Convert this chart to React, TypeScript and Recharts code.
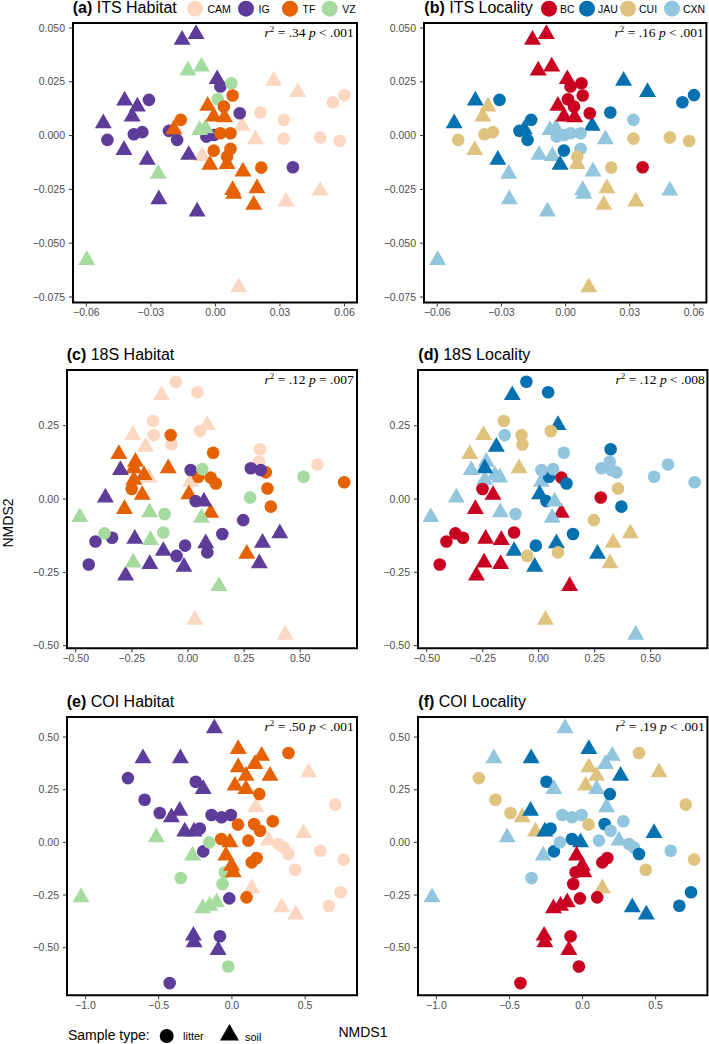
import React from 'react';
import { ScatterChart, Scatter, XAxis, YAxis, ReferenceArea } from 'recharts';

// point rows: [NMDS1, NMDS2, habitat, locality, sample type (l = litter, s = soil)]
type Row = [number, number, string, string, string];

const itsRows: Row[] = [
  [-0.0155, 0.0445, 'IG', 'BC', 's'], [-0.009, 0.0472, 'IG', 'BC', 's'],
  [-0.0128, 0.0302, 'VZ', 'BC', 's'], [-0.0065, 0.0321, 'VZ', 'BC', 's'],
  [-0.0422, 0.0163, 'IG', 'JAU', 's'], [-0.0363, 0.0135, 'IG', 'CUI', 's'],
  [-0.0387, 0.0088, 'IG', 'CUI', 's'], [-0.0521, 0.0057, 'IG', 'JAU', 's'],
  [-0.0425, -0.0067, 'IG', 'CUI', 's'], [-0.0317, -0.0113, 'IG', 'JAU', 's'],
  [-0.0263, -0.0296, 'IG', 'CXN', 's'], [-0.0085, -0.0353, 'IG', 'CXN', 's'],
  [-0.0309, 0.0166, 'IG', 'JAU', 'l'], [-0.0502, -0.002, 'IG', 'CUI', 'l'],
  [-0.0379, 0.0006, 'IG', 'CUI', 'l'], [-0.034, 0.0016, 'IG', 'CUI', 'l'],
  [-0.0216, 0.0022, 'IG', 'JAU', 'l'], [-0.0178, -0.002, 'IG', 'JAU', 'l'],
  [-0.0266, -0.0178, 'VZ', 'CXN', 's'], [-0.0598, -0.0578, 'VZ', 'CXN', 's'],
  [0.0108, -0.0705, 'CAM', 'CUI', 's'],
  [0.0124, 0.0045, 'CAM', 'JAU', 's'], [0.0186, -0.0017, 'CAM', 'CXN', 's'],
  [-0.0062, -0.0095, 'CAM', 'CXN', 's'], [0.0328, -0.0307, 'CAM', 'CUI', 's'],
  [0.0487, -0.0256, 'CAM', 'CXN', 's'], [0.0209, 0.0107, 'CAM', 'JAU', 'l'],
  [0.0317, 0.0073, 'CAM', 'CXN', 'l'], [0.0317, -0.0014, 'CAM', 'CUI', 'l'],
  [0.0487, -0.0009, 'CAM', 'CUI', 'l'], [0.0577, -0.0025, 'CAM', 'CUI', 'l'],
  [0.0546, 0.0155, 'CAM', 'JAU', 'l'], [0.06, 0.0188, 'CAM', 'JAU', 'l'],
  [0.0271, 0.0254, 'CAM', 'JAU', 's'], [0.0383, 0.0202, 'CAM', 'JAU', 's'],
  [-0.0042, -0.0005, 'IG', 'CXN', 'l'], [-0.0008, 0.0003, 'IG', 'CXN', 'l'],
  [-0.0124, -0.009, 'IG', 'CXN', 's'], [0.036, -0.0147, 'IG', 'BC', 'l'],
  [0.0008, 0.0262, 'IG', 'BC', 's'], [0.0023, 0.0228, 'IG', 'BC', 'l'],
  [0.0113, 0.0104, 'IG', 'BC', 'l'],
  [0.0074, 0.0243, 'VZ', 'BC', 'l'], [0.0011, 0.0169, 'VZ', 'BC', 'l'],
  [-0.0073, 0.0026, 'VZ', 'CXN', 's'], [-0.0046, 0.0034, 'VZ', 'CXN', 's'],
  [0.008, 0.0186, 'TF', 'BC', 'l'], [-0.0036, 0.0138, 'TF', 'BC', 's'],
  [0.0039, 0.0135, 'TF', 'BC', 'l'], [-0.0008, 0.0088, 'TF', 'BC', 's'],
  [0.0042, 0.0085, 'TF', 'BC', 's'], [-0.0161, 0.0073, 'TF', 'JAU', 'l'],
  [-0.0193, 0.0029, 'TF', 'JAU', 's'], [0.0023, 0.0011, 'TF', 'CXN', 'l'],
  [0.007, 0.0011, 'TF', 'CXN', 'l'], [-0.0008, -0.007, 'TF', 'JAU', 'l'],
  [0.007, -0.0062, 'TF', 'CXN', 'l'], [0.0054, -0.0098, 'TF', 'CUI', 'l'],
  [0.0054, -0.0132, 'TF', 'CUI', 's'], [-0.0026, -0.0136, 'TF', 'JAU', 's'],
  [0.0128, -0.0167, 'TF', 'CXN', 's'], [0.0213, -0.0149, 'TF', 'CUI', 'l'],
  [0.008, -0.0253, 'TF', 'CXN', 's'], [0.0085, -0.0271, 'TF', 'CXN', 's'],
  [0.0193, -0.0245, 'TF', 'CUI', 's'], [0.0178, -0.0322, 'TF', 'CUI', 's'],
];

const s18Rows: Row[] = [
  [-0.055, 0.4, 'CAM', 'JAU', 'l'], [0.042, 0.364, 'CAM', 'JAU', 'l'],
  [-0.118, 0.354, 'CAM', 'JAU', 's'], [0.086, 0.252, 'CAM', 'JAU', 's'],
  [-0.156, 0.266, 'CAM', 'CUI', 'l'], [0.054, 0.232, 'CAM', 'CUI', 'l'],
  [-0.073, 0.186, 'CAM', 'CUI', 'l'], [-0.152, 0.218, 'CAM', 'CXN', 'l'],
  [-0.246, 0.218, 'CAM', 'CUI', 's'], [-0.189, 0.178, 'CAM', 'JAU', 's'],
  [0.321, 0.17, 'CAM', 'JAU', 'l'], [0.317, 0.127, 'CAM', 'CXN', 'l'],
  [0.577, 0.118, 'CAM', 'CXN', 'l'], [-0.174, 0.073, 'CAM', 'CXN', 's'],
  [0.012, 0.059, 'CAM', 'CXN', 's'], [0.03, -0.412, 'CAM', 'CUI', 's'],
  [0.433, -0.463, 'CAM', 'CXN', 's'],
  [-0.077, 0.218, 'TF', 'CUI', 'l'], [-0.308, 0.153, 'TF', 'CUI', 's'],
  [0.112, 0.158, 'TF', 'CXN', 'l'], [0.347, 0.091, 'TF', 'CXN', 'l'],
  [0.696, 0.057, 'TF', 'CXN', 'l'], [-0.088, 0.105, 'TF', 'CUI', 's'],
  [-0.234, 0.127, 'TF', 'CXN', 's'], [-0.241, 0.065, 'TF', 'CXN', 's'],
  [-0.196, 0.082, 'TF', 'CXN', 's'], [-0.241, 0.105, 'TF', 'JAU', 's'],
  [-0.251, 0.034, 'TF', 'BC', 'l'], [-0.204, 0.014, 'TF', 'BC', 's'],
  [-0.283, -0.034, 'TF', 'BC', 's'], [0.046, 0.076, 'TF', 'JAU', 'l'],
  [0.101, 0.073, 'TF', 'BC', 'l'], [0.124, 0.053, 'TF', 'JAU', 'l'],
  [0.004, 0.016, 'TF', 'JAU', 's'], [0.101, -0.047, 'TF', 'BC', 's'],
  [0.354, 0.036, 'TF', 'CUI', 'l'], [0.369, -0.026, 'TF', 'JAU', 'l'],
  [0.262, -0.187, 'TF', 'JAU', 's'],
  [0.28, 0.105, 'IG', 'CXN', 'l'], [0.324, 0.099, 'IG', 'CXN', 'l'],
  [-0.301, 0.099, 'IG', 'CXN', 's'], [-0.368, 0.005, 'IG', 'CXN', 's'],
  [-0.412, -0.145, 'IG', 'BC', 'l'], [-0.338, -0.132, 'IG', 'BC', 'l'],
  [-0.442, -0.223, 'IG', 'BC', 'l'], [-0.237, -0.136, 'IG', 'BC', 's'],
  [-0.17, -0.222, 'IG', 'BC', 's'], [-0.278, -0.261, 'IG', 'BC', 's'],
  [-0.11, -0.177, 'IG', 'JAU', 's'], [-0.051, -0.194, 'IG', 'CUI', 'l'],
  [-0.013, -0.159, 'IG', 'JAU', 'l'], [-0.018, -0.231, 'IG', 'JAU', 's'],
  [0.012, 0.099, 'IG', 'CXN', 'l'], [0.034, -0.007, 'IG', 'JAU', 'l'],
  [0.071, -0.009, 'IG', 'CXN', 's'], [0.079, -0.151, 'IG', 'JAU', 's'],
  [0.086, -0.182, 'IG', 'CUI', 'l'], [0.153, -0.119, 'IG', 'JAU', 'l'],
  [0.246, -0.072, 'IG', 'CUI', 'l'], [0.332, -0.149, 'IG', 'CUI', 's'],
  [0.409, -0.117, 'IG', 'CUI', 's'], [0.318, -0.219, 'IG', 'CUI', 's'],
  [0.515, 0.076, 'VZ', 'CXN', 'l'], [-0.482, -0.062, 'VZ', 'CXN', 's'],
  [-0.171, -0.045, 'VZ', 'CXN', 's'], [-0.104, -0.051, 'VZ', 'CXN', 'l'],
  [-0.11, -0.114, 'VZ', 'BC', 'l'], [-0.372, -0.117, 'VZ', 'BC', 'l'],
  [-0.167, -0.14, 'VZ', 'BC', 's'], [-0.244, -0.217, 'VZ', 'BC', 's'],
  [0.138, -0.297, 'VZ', 'BC', 's'], [0.064, 0.102, 'VZ', 'CXN', 'l'],
  [0.06, -0.064, 'VZ', 'CXN', 's'], [0.277, 0.005, 'VZ', 'BC', 'l'],
];

const coiRows: Row[] = [
  [-0.12, 0.541, 'IG', 'CXN', 's'], [-0.607, 0.399, 'IG', 'CXN', 's'],
  [-0.352, 0.399, 'IG', 'JAU', 's'], [-0.71, 0.305, 'IG', 'CUI', 'l'],
  [-0.596, 0.202, 'IG', 'CUI', 'l'], [-0.247, 0.288, 'IG', 'JAU', 'l'],
  [-0.196, 0.253, 'IG', 'CXN', 's'], [-0.493, 0.139, 'IG', 'CUI', 'l'],
  [-0.413, 0.119, 'IG', 'CUI', 's'], [-0.356, 0.15, 'IG', 'JAU', 's'],
  [-0.322, 0.051, 'IG', 'CUI', 's'], [-0.258, 0.051, 'IG', 'JAU', 's'],
  [-0.219, 0.066, 'IG', 'JAU', 'l'], [-0.139, 0.13, 'IG', 'CXN', 'l'],
  [-0.071, 0.119, 'IG', 'CXN', 'l'], [-0.007, 0.13, 'IG', 'CXN', 'l'],
  [-0.196, -0.043, 'IG', 'JAU', 'l'], [-0.018, -0.266, 'IG', 'BC', 'l'],
  [-0.263, -0.443, 'IG', 'BC', 's'], [-0.258, -0.475, 'IG', 'BC', 's'],
  [-0.082, -0.446, 'IG', 'BC', 'l'], [-0.094, -0.511, 'IG', 'BC', 's'],
  [-0.425, -0.668, 'IG', 'BC', 'l'],
  [-0.516, 0.024, 'VZ', 'CXN', 's'], [-0.155, 0.0, 'VZ', 'CXN', 'l'],
  [-0.269, -0.063, 'VZ', 'CXN', 's'], [-0.349, -0.169, 'VZ', 'CXN', 'l'],
  [-1.03, -0.261, 'VZ', 'CXN', 's'], [-0.048, -0.142, 'VZ', 'BC', 'l'],
  [-0.064, -0.198, 'VZ', 'BC', 'l'], [-0.199, -0.313, 'VZ', 'BC', 's'],
  [-0.105, -0.285, 'VZ', 'BC', 's'], [-0.151, -0.301, 'VZ', 'BC', 's'],
  [-0.025, -0.589, 'VZ', 'BC', 'l'],
  [0.164, 0.166, 'CAM', 'CXN', 's'], [0.249, 0.008, 'CAM', 'CXN', 's'],
  [0.317, -0.008, 'CAM', 'CXN', 'l'], [0.352, -0.024, 'CAM', 'CXN', 'l'],
  [0.386, -0.055, 'CAM', 'JAU', 'l'], [0.432, -0.13, 'CAM', 'CUI', 'l'],
  [0.603, -0.04, 'CAM', 'CXN', 'l'], [0.489, 0.044, 'CAM', 'JAU', 's'],
  [0.763, -0.082, 'CAM', 'CUI', 'l'], [0.706, 0.179, 'CAM', 'CUI', 'l'],
  [0.523, 0.332, 'CAM', 'CUI', 's'], [0.34, -0.308, 'CAM', 'JAU', 's'],
  [0.436, -0.343, 'CAM', 'JAU', 's'], [0.662, -0.301, 'CAM', 'JAU', 'l'],
  [0.742, -0.237, 'CAM', 'JAU', 'l'], [0.135, -0.218, 'CAM', 'CUI', 's'],
  [-0.073, 0.016, 'TF', 'JAU', 'l'], [-0.014, 0.0, 'TF', 'JAU', 's'],
  [-0.041, -0.063, 'TF', 'BC', 's'], [-0.002, -0.111, 'TF', 'BC', 's'],
  [0.009, -0.142, 'TF', 'BC', 's'], [0.1, -0.261, 'TF', 'BC', 'l'],
  [0.135, -0.095, 'TF', 'BC', 'l'], [0.169, -0.074, 'TF', 'BC', 'l'],
  [0.043, 0.443, 'TF', 'JAU', 's'], [0.043, 0.356, 'TF', 'CUI', 's'],
  [0.157, 0.372, 'TF', 'CXN', 's'], [0.203, 0.411, 'TF', 'CXN', 's'],
  [0.26, 0.316, 'TF', 'JAU', 's'], [0.096, 0.316, 'TF', 'CUI', 's'],
  [0.021, 0.269, 'TF', 'CUI', 's'], [0.096, 0.253, 'TF', 'CXN', 's'],
  [0.187, 0.229, 'TF', 'JAU', 'l'], [0.041, 0.084, 'TF', 'CUI', 'l'],
  [0.151, 0.087, 'TF', 'JAU', 'l'], [0.279, 0.1, 'TF', 'CXN', 'l'],
  [0.192, 0.055, 'TF', 'CXN', 'l'], [0.112, 0.008, 'TF', 'CXN', 'l'],
  [0.386, 0.424, 'TF', 'CUI', 'l'],
];

const habitats = ['CAM', 'IG', 'TF', 'VZ'];
const habitatColors = ['#FDD7C2', '#5E3C99', '#E66101', '#A6DBA0'];
const localities = ['BC', 'JAU', 'CUI', 'CXN'];
const localityColors = ['#CA0020', '#0571B0', '#DFC27D', '#92C5DE'];

const itsXTicks = [-0.06, -0.03, 0, 0.03, 0.06];
const itsYTicks = [-0.075, -0.05, -0.025, 0, 0.025, 0.05];
const s18XTicks = [-0.5, -0.25, 0, 0.25, 0.5];
const s18YTicks = [-0.5, -0.25, 0, 0.25];
const coiXTicks = [-1, -0.5, 0, 0.5];
const coiYTicks = [-0.5, -0.25, 0, 0.25, 0.5];

const stats = [
  { r: '.34', p: '< .001' },
  { r: '.16', p: '< .001' },
  { r: '.12', p: '= .007' },
  { r: '.12', p: '< .008' },
  { r: '.50', p: '< .001' },
  { r: '.19', p: '< .001' },
];

const toPoints = (rows: Row[]) =>
  rows.map(([x, y, habitat, locality, type]) => ({ x, y, habitat, locality, type }));

const SANS = 'Liberation Sans, Arial, sans-serif';
const SERIF = 'Liberation Serif, Times New Roman, serif';
const YW = 60;
const XH = 24;
const MT = 5;
const MR = 5;

const colorOf = (p: any, by: string) =>
  by === 'habitat'
    ? habitatColors[habitats.indexOf(p.habitat)]
    : localityColors[localities.indexOf(p.locality)];

function Mark(props: any) {
  const { cx, cy, payload, by } = props;
  const fill = colorOf(payload, by);
  if (payload.type === 'l') return <circle cx={cx} cy={cy} r={6.3} fill={fill} />;
  const r = 9.8;
  const pts = `${cx},${cy - r} ${cx + r * 0.866},${cy + r / 2} ${cx - r * 0.866},${cy + r / 2}`;
  return <polygon points={pts} fill={fill} />;
}

const fmt = (d: number) => (v: number) => v.toFixed(d).replace('-', '\u2212');

interface PanelProps {
  box: number[];
  rows: Row[];
  by: string;
  xDomain: number[];
  yDomain: number[];
  xTicks: number[];
  yTicks: number[];
  xDigits: number;
  yDigits: number;
}

function Panel({ box, rows, by, xDomain, yDomain, xTicks, yTicks, xDigits, yDigits }: PanelProps) {
  const [x0, y0, x1, y1] = box;
  const tick = { fill: '#4d4d4d', fontSize: 10.5, fontFamily: SANS };
  return (
    <div style={{ position: 'absolute', left: x0 - YW, top: y0 - MT }}>
      <ScatterChart
        width={x1 - x0 + YW + MR}
        height={y1 - y0 + MT + XH}
        margin={{ top: MT, right: MR, bottom: 0, left: 0 }}
      >
        <XAxis
          type="number"
          dataKey="x"
          domain={xDomain}
          ticks={xTicks}
          interval={0}
          allowDataOverflow
          height={XH}
          tickSize={4}
          tickMargin={2}
          axisLine={false}
          tickLine={{ stroke: '#333' }}
          tick={tick}
          tickFormatter={fmt(xDigits)}
        />
        <YAxis
          type="number"
          dataKey="y"
          domain={yDomain}
          ticks={yTicks}
          interval={0}
          allowDataOverflow
          width={YW}
          tickSize={4}
          tickMargin={4}
          axisLine={false}
          tickLine={{ stroke: '#333' }}
          tick={tick}
          tickFormatter={fmt(yDigits)}
        />
        <ReferenceArea
          x1={xDomain[0]}
          x2={xDomain[1]}
          y1={yDomain[0]}
          y2={yDomain[1]}
          fill="none"
          stroke="#000"
          strokeWidth={2}
        />
        <Scatter
          data={toPoints(rows)}
          isAnimationActive={false}
          shape={(p: any) => <Mark {...p} by={by} />}
        />
      </ScatterChart>
    </div>
  );
}

// plot boxes [left, top, right, bottom]
const boxes = [
  [72.7, 23.3, 356.7, 302.7],
  [424.3, 23.3, 706.7, 302.7],
  [66.7, 370, 356.7, 648.3],
  [418.3, 370, 707.7, 648.3],
  [66.7, 716.7, 356.7, 995],
  [418.3, 716.7, 707.7, 995],
];

const titles = [
  ['(a)', 'ITS Habitat'],
  ['(b)', 'ITS Locality'],
  ['(c)', '18S Habitat'],
  ['(d)', '18S Locality'],
  ['(e)', 'COI Habitat'],
  ['(f)', 'COI Locality'],
];

const habitatLegendX = [195, 246, 290, 329.7];
const localityLegendX = [549, 587, 628, 672];

export default function App() {
  const its = { xDomain: [-0.0662, 0.0658], yDomain: [-0.0775, 0.0523], xTicks: itsXTicks, yTicks: itsYTicks, xDigits: 2, yDigits: 3 };
  const s18 = { xDomain: [-0.539, 0.753], yDomain: [-0.509, 0.44], xTicks: s18XTicks, yTicks: s18YTicks, xDigits: 2, yDigits: 2 };
  const coi = { xDomain: [-1.126, 0.854], yDomain: [-0.726, 0.595], xTicks: coiXTicks, yTicks: coiYTicks, xDigits: 1, yDigits: 2 };

  return (
    <div style={{ position: 'absolute', left: 0, top: 0, width: 709, height: 1044, background: '#fff' }}>
      <Panel box={boxes[0]} rows={itsRows} by="habitat" {...its} />
      <Panel box={boxes[1]} rows={itsRows} by="locality" {...its} />
      <Panel box={boxes[2]} rows={s18Rows} by="habitat" {...s18} />
      <Panel box={boxes[3]} rows={s18Rows} by="locality" {...s18} />
      <Panel box={boxes[4]} rows={coiRows} by="habitat" {...coi} />
      <Panel box={boxes[5]} rows={coiRows} by="locality" {...coi} />

      <svg
        width={709}
        height={1044}
        style={{ position: 'absolute', left: 0, top: 0, pointerEvents: 'none' }}
      >
        {titles.map(([tag, name], i) => {
          const b = boxes[i];
          return (
            <text key={tag} x={b[0]} y={b[1] - 10} fontFamily={SANS} fontSize={16} fill="#000">
              <tspan fontWeight="bold">{tag}</tspan>
              <tspan> {name}</tspan>
            </text>
          );
        })}

        {habitats.map((h, i) => (
          <g key={h}>
            <circle cx={habitatLegendX[i]} cy={8.7} r={8} fill={habitatColors[i]} />
            <text x={habitatLegendX[i] + 12.5} y={12.5} fontFamily={SANS} fontSize={10.5} fill="#000">{h}</text>
          </g>
        ))}
        {localities.map((l, i) => (
          <g key={l}>
            <circle cx={localityLegendX[i]} cy={8.7} r={8} fill={localityColors[i]} />
            <text x={localityLegendX[i] + 11} y={12.5} fontFamily={SANS} fontSize={10.5} fill="#000">{l}</text>
          </g>
        ))}

        {stats.map((s, i) => {
          const b = boxes[i];
          return (
            <text key={i} x={b[2] - 3} y={b[1] + 14} textAnchor="end" fontFamily={SERIF} fontSize={13.5} fill="#000">
              <tspan fontStyle="italic">r</tspan>
              <tspan dy={-5} fontSize={9}>2</tspan>
              <tspan dy={5}>{` = ${s.r} `}</tspan>
              <tspan fontStyle="italic">p</tspan>
              <tspan>{` ${s.p}`}</tspan>
            </text>
          );
        })}

        <text x={12.5} y={523} transform="rotate(-90 12.5 523)" textAnchor="middle" fontFamily={SANS} fontSize={14} fill="#000">NMDS2</text>
        <text x={363} y={1036.5} textAnchor="middle" fontFamily={SANS} fontSize={14} fill="#000">NMDS1</text>

        <text x={68} y={1039.5} fontFamily={SANS} fontSize={14} fill="#000">Sample type:</text>
        <circle cx={166.7} cy={1036} r={7} fill="#000" />
        <text x={183} y={1040} fontFamily={SANS} fontSize={11} fill="#000">litter</text>
        <polygon points="229.5,1024 239,1040.5 220,1040.5" fill="#000" />
        <text x={245} y={1041} fontFamily={SANS} fontSize={11} fill="#000">soil</text>
      </svg>
    </div>
  );
}
